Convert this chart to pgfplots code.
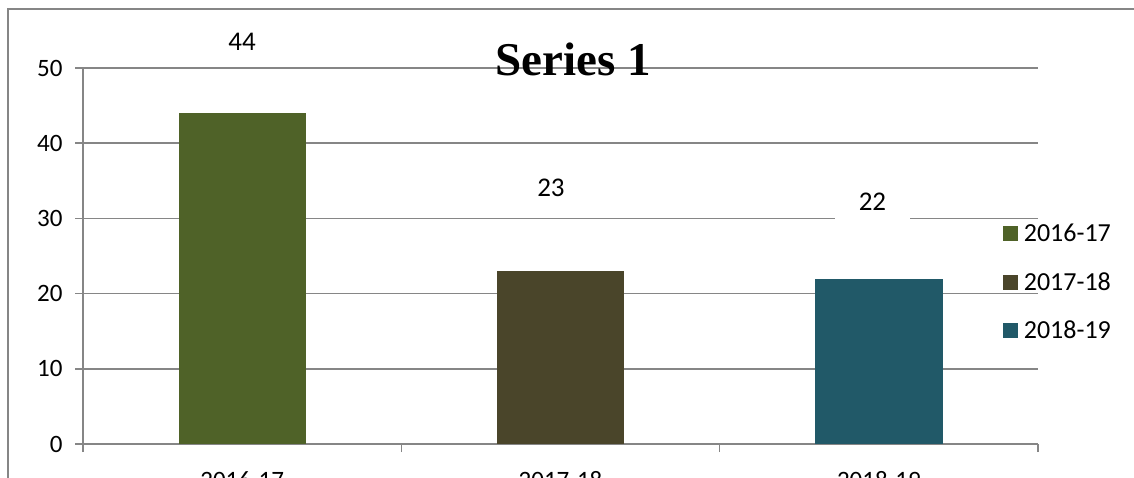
\documentclass[border=0pt]{standalone}
\usepackage{pgfplots}
\pgfplotsset{compat=1.18}
\usepackage{fontspec}
\setmainfont{Carlito}
\newfontfamily\titlefont{Liberation Serif}
\definecolor{gridgray}{RGB}{134,134,134}
\definecolor{cA}{RGB}{79,98,40}
\definecolor{cB}{RGB}{74,69,42}
\definecolor{cC}{RGB}{33,89,104}
\pgfplotsset{sqlegend/.style={legend image code/.code={\fill[##1] (0pt,-7.5pt) rectangle (15pt,7.5pt);}}}
\begin{document}
\begin{tikzpicture}
\useasboundingbox (0pt,0pt) rectangle (1134pt,477pt);
\clip (0pt,0pt) rectangle (1134pt,477pt);
\draw[gridgray, line width=1.5pt] (8pt,-20pt) -- (8pt,468pt) -- (1160pt,468pt);
\begin{axis}[
  at={(83pt,33pt)}, anchor=south west,
  scale only axis, width=955pt, height=376pt,
  xmin=-0.5, xmax=2.5, ymin=0, ymax=50,
  axis x line*=bottom, axis y line*=left,
  axis line style={gridgray, line width=1.5pt, -},
  ymajorgrids, grid style={gridgray, line width=1.5pt},
  ytick={0,10,...,50},
  tick align=outside, major tick length=8pt,
  tick style={gridgray, line width=1.5pt},
  xtick={-0.5,0.5,1.5,2.5}, xticklabels={},
  extra x ticks={0,1,2}, extra x tick labels={2016-17,2017-18,2018-19},
  extra x tick style={major tick length=0pt, xticklabel style={yshift=-24pt}},
  ybar, bar width=0.4, bar shift=0pt,
  clip=false,
  ticklabel style={font=\fontsize{25}{30}\selectfont, black},
  yticklabel style={xshift=-9pt},
  /pgf/number format/assume math mode=true,
  legend cell align=left,
  legend style={draw=none, fill=none, at={(0.963,0.59)}, anchor=north west, inner sep=0pt,
    font=\fontsize{26}{31}\selectfont, row sep=25pt, column sep=4pt,
    nodes={inner sep=2pt}},
]
\addplot[fill=cA, draw=none, sqlegend] coordinates {(0,44)};
\addplot[fill=cB, draw=none, sqlegend] coordinates {(1,23)};
\addplot[fill=cC, draw=none, sqlegend] coordinates {(2,22)};
\legend{2016-17,2017-18,2018-19}
\node[font=\fontsize{27}{32}\selectfont] at (axis cs:0,53.5) {44};
\node[font=\fontsize{27}{32}\selectfont] at (axis cs:0.97,34.0) {23};
\node[font=\fontsize{27}{32}\selectfont, fill=white, inner xsep=24pt, inner ysep=9pt] at (axis cs:1.98,32.2) {22};
\end{axis}
\node[font=\titlefont\bfseries\fontsize{47}{56}\selectfont] at (573pt,418pt) {Series 1};
\end{tikzpicture}
\end{document}
